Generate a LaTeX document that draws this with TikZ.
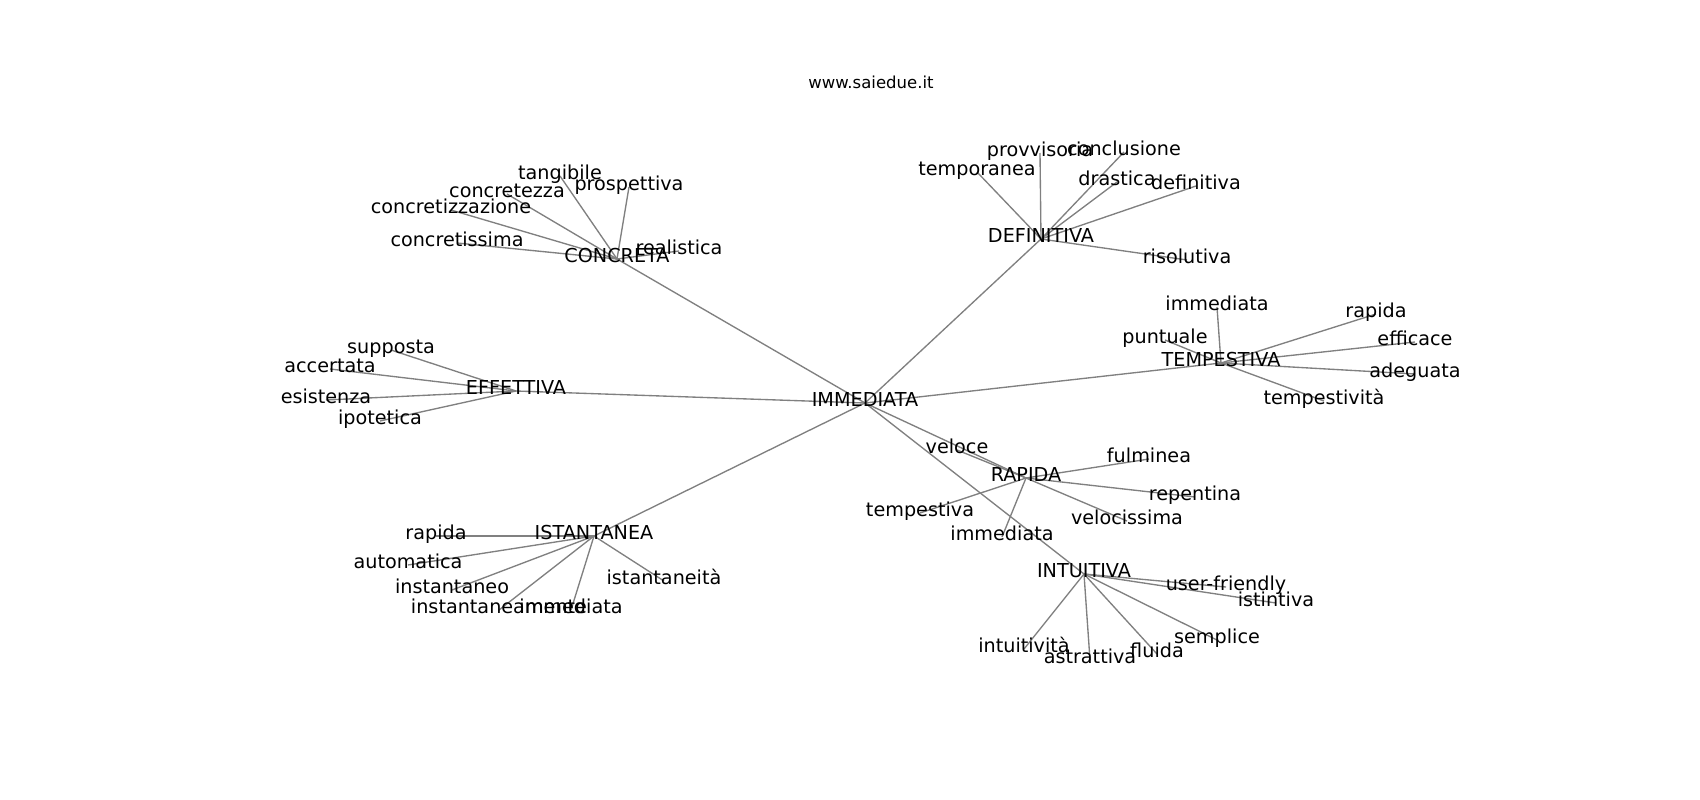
\documentclass[tikz,border=0pt]{standalone}
\usepackage{fontspec}
\setmainfont{DejaVu Sans}
\usetikzlibrary{backgrounds}
\definecolor{edgegray}{RGB}{128,128,128}
\tikzset{
  lbl/.style={inner sep=0pt, text height=0.73em, text depth=0pt, font=\fontsize{19.2}{23}\selectfont, text=black},
  ttl/.style={inner sep=0pt, text height=0.73em, text depth=0pt, font=\fontsize{16.5}{20}\selectfont, text=black},
  edge/.style={draw=edgegray, line width=1.35pt}
}
\begin{document}
\begin{tikzpicture}[x=1pt,y=-1pt]
\useasboundingbox (0,0) rectangle (1700,800);
\node[ttl] (title) at (871,85) {www.saiedue.it};
% hubs
\node[lbl] (IM) at (865,403) {IMMEDIATA};
\node[lbl] (CO) at (617,259) {CONCRETA};
\node[lbl] (EF) at (516,391) {EFFETTIVA};
\node[lbl] (DE) at (1041,239) {DEFINITIVA};
\node[lbl] (TE) at (1221,363) {TEMPESTIVA};
\node[lbl] (RA) at (1026,478) {RAPIDA};
\node[lbl] (IN) at (1084,574) {INTUITIVA};
\node[lbl] (IS) at (594,536) {ISTANTANEA};
% CONCRETA
\node[lbl] (co1) at (560,176) {tangibile};
\node[lbl] (co2) at (629,187) {prospettiva};
\node[lbl] (co3) at (507,194) {concretezza};
\node[lbl] (co4) at (451,210) {concretizzazione};
\node[lbl] (co5) at (457,243) {concretissima};
\node[lbl] (co6) at (679,251) {realistica};
% EFFETTIVA
\node[lbl] (ef1) at (391,350) {supposta};
\node[lbl] (ef2) at (330,369) {accertata};
\node[lbl] (ef3) at (326,400) {esistenza};
\node[lbl] (ef4) at (380,421) {ipotetica};
% DEFINITIVA
\node[lbl] (de1) at (1040,153) {provvisoria};
\node[lbl] (de2) at (1124,152) {conclusione};
\node[lbl] (de3) at (977,172) {temporanea};
\node[lbl] (de4) at (1117,182) {drastica};
\node[lbl] (de5) at (1196,186) {definitiva};
\node[lbl] (de6) at (1187,260) {risolutiva};
% TEMPESTIVA
\node[lbl] (te1) at (1217,307) {immediata};
\node[lbl] (te2) at (1165,340) {puntuale};
\node[lbl] (te3) at (1376,314) {rapida};
\node[lbl] (te4) at (1415,342) {efficace};
\node[lbl] (te5) at (1415,374) {adeguata};
\node[lbl] (te6) at (1324,401) {tempestività};
% RAPIDA
\node[lbl] (ra1) at (957,450) {veloce};
\node[lbl] (ra2) at (1149,459) {fulminea};
\node[lbl] (ra3) at (1195,497) {repentina};
\node[lbl] (ra4) at (1127,521) {velocissima};
\node[lbl] (ra5) at (920,513) {tempestiva};
\node[lbl] (ra6) at (1002,537) {immediata};
% INTUITIVA
\node[lbl] (in1) at (1024,649) {intuitività};
\node[lbl] (in2) at (1090,660) {astrattiva};
\node[lbl] (in3) at (1157,654) {fluida};
\node[lbl] (in4) at (1217,640) {semplice};
\node[lbl] (in5) at (1226,587) {user-friendly};
\node[lbl] (in6) at (1276,603) {istintiva};
% ISTANTANEA
\node[lbl] (is1) at (436,536) {rapida};
\node[lbl] (is2) at (408,565) {automatica};
\node[lbl] (is3) at (452,590) {instantaneo};
\node[lbl] (is4) at (499,610) {instantaneamente};
\node[lbl] (is5) at (571,610) {immediata};
\node[lbl] (is6) at (664,581) {istantaneità};
\begin{scope}[on background layer]
\foreach \h in {CO,EF,DE,TE,RA,IN,IS} {\draw[edge] (IM.center) -- (\h.center);}
\foreach \c in {co1,co2,co3,co4,co5,co6} {\draw[edge] (CO.center) -- (\c.center);}
\foreach \c in {ef1,ef2,ef3,ef4} {\draw[edge] (EF.center) -- (\c.center);}
\foreach \c in {de1,de2,de3,de4,de5,de6} {\draw[edge] (DE.center) -- (\c.center);}
\foreach \c in {te1,te2,te3,te4,te5,te6} {\draw[edge] (TE.center) -- (\c.center);}
\foreach \c in {ra1,ra2,ra3,ra4,ra5,ra6} {\draw[edge] (RA.center) -- (\c.center);}
\foreach \c in {in1,in2,in3,in4,in5,in6} {\draw[edge] (IN.center) -- (\c.center);}
\foreach \c in {is1,is2,is3,is4,is5,is6} {\draw[edge] (IS.center) -- (\c.center);}
\end{scope}
\end{tikzpicture}
\end{document}
